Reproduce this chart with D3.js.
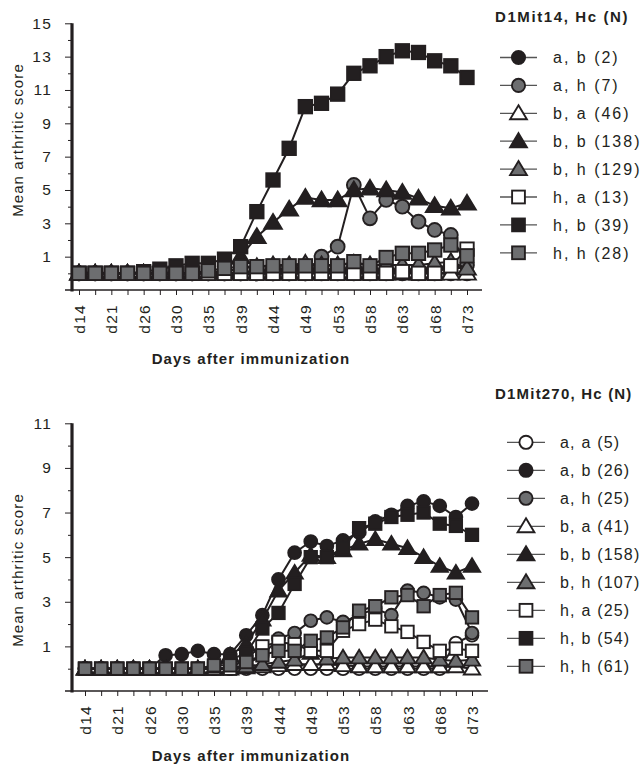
<!DOCTYPE html>
<html><head><meta charset="utf-8">
<script src="https://cdn.jsdelivr.net/npm/d3@7"></script>
<style>
body{margin:0;background:#fff}
svg{display:block}
text{font-family:"Liberation Sans",Arial,Helvetica,sans-serif;fill:#231f20}
</style>
</head><body>
<svg id="chart" width="644" height="766"></svg>
<script>
// ---------- DATA ----------
const days = ["d14","d16","d21","d23","d26","d28","d30","d33","d35","d37","d39","d42","d44",
              "d46","d49","d51","d53","d56","d58","d60","d63","d65","d68","d70","d73"];
const yTicksA = [1,3,5,7,9,11,13,15];
const yTicksB = [1,3,5,7,9,11];
const yTitle = "Mean arthritic score";
const xTitle = "Days after immunization";

// Panel A: D1Mit14
const legendTitleA = "D1Mit14, Hc (N)";
const genotypesA = ["a, b","a, h","b, a","b, b","b, h","h, a","h, b","h, h"];
const countsA = [2, 7, 46, 138, 129, 13, 39, 28];
const A_ab = [0,0,0,0,0,0,0,0,0,0,0,0,0,0,0,0,0,0,0,0,0,0,0,0,0];
const A_ah = [0,0,0,0,0,0,0,0,0,0,0,0,0,0,0,1.0,1.6,5.3,3.3,4.4,4.0,3.1,2.6,2.3,0.5];
const A_ba = [0,0,0,0,0,0,0,0,0,0,0,0,0,0,0,0,0,0,0,0,0,0,0,0,0];
const A_bb = [0,0,0,0,0,0,0,0,0,0.2,1.0,2.2,3.05,3.85,4.55,4.4,4.4,5.0,5.1,5.0,4.85,4.5,4.05,3.9,4.2];
const A_bh = [0,0,0,0,0,0,0,0,0,0.1,0.3,0.4,0.5,0.5,0.6,0.5,0.5,0.6,0.5,0.5,0.5,0.5,0.6,0.7,0.3];
const A_ha = [0,0,0,0,0,0,0,0,0,0,0,0,0,0,0,0,0,0,0,0,0.1,0,0,0.45,1.45];
const A_hb = [0,0,0,0,0.1,0.25,0.45,0.6,0.6,0.85,1.6,3.7,5.6,7.5,10.0,10.2,10.75,12.0,12.45,13.0,13.35,13.25,12.75,12.45,11.75];
const A_hh = [0,0,0,0,0,0,0,0,0.15,0.3,0.4,0.4,0.45,0.45,0.45,0.45,0.45,0.7,0.45,0.95,1.2,1.2,1.4,1.7,1.05];

// Panel B: D1Mit270
const legendTitleB = "D1Mit270, Hc (N)";
const genotypesB = ["a, a","a, b","a, h","b, a","b, b","b, h","h, a","h, b","h, h"];
const countsB = [5, 26, 25, 41, 158, 107, 25, 54, 61];
const B_aa = [0,0,0,0,0,0,0,0,0,0,0,0,0,0,0,0,0,0,0,0,0,0,0,1.15,1.5];
const B_ab = [0,0,0,0,0,0.6,0.65,0.8,0.65,0.65,1.5,2.4,4.0,5.2,5.7,5.5,5.75,6.1,6.6,6.9,7.3,7.5,7.3,6.8,7.4];
const B_ah = [0,0,0,0,0,0,0,0,0,0,0.2,0.6,1.35,1.6,2.15,2.3,2.1,2.4,2.7,2.4,3.5,3.4,3.2,3.1,1.6];
const B_ba = [0,0,0,0,0,0,0,0,0,0,0.05,0.1,0.15,0.2,0.2,0.2,0.15,0.1,0.1,0.1,0.1,0.1,0.1,0.1,0.0];
const B_bb = [0,0,0,0,0,0,0,0,0,0.6,1.1,2.2,3.5,4.3,5.1,5.0,5.3,5.6,5.8,5.6,5.4,5.0,4.6,4.3,4.6];
const B_bh = [0,0,0,0,0,0,0,0,0,0.05,0.1,0.2,0.3,0.4,0.7,0.45,0.5,0.5,0.5,0.5,0.5,0.5,0.4,0.35,0.4];
const B_ha = [0,0,0,0,0,0,0,0,0,0,0.5,1.0,1.2,1.1,0.8,0.8,1.7,2.0,2.2,1.9,1.65,1.2,0.8,0.9,0.8];
const B_hb = [0,0,0,0,0,0,0,0,0.1,0.4,0.7,1.8,2.5,3.8,5.0,5.0,5.4,6.3,6.5,6.8,6.9,7.0,6.5,6.4,6.0];
const B_hh = [0,0,0,0,0,0,0,0,0.15,0.15,0.3,0.6,0.8,0.8,1.25,1.4,1.85,2.6,2.8,3.2,3.3,2.8,3.3,3.4,2.3];

const seriesA = [A_ab, A_ah, A_ba, A_bb, A_bh, A_ha, A_hb, A_hh];
const seriesB = [B_aa, B_ab, B_ah, B_ba, B_bb, B_bh, B_ha, B_hb, B_hh];

// ---------- STYLE ----------
const INK = "#231f20";
const shapeOf = {a: "circle", b: "triangle", h: "square"};
const fillOf = {a: "#ffffff", b: INK, h: "#6d6e70"};

const svg = d3.select("#chart");

function drawMarker(g, genotype, cx, cy, s) {
  const shape = shapeOf[genotype[0]];
  const fill = fillOf[genotype[3]];
  let el;
  if (shape === "circle") {
    el = g.append("circle").attr("cx", cx).attr("cy", cy).attr("r", 6.6 * s);
  } else if (shape === "square") {
    const h = 6.4 * s;
    el = g.append("rect").attr("x", cx - h).attr("y", cy - h).attr("width", 2 * h).attr("height", 2 * h);
  } else {
    const w = 8.4 * s;
    el = g.append("path").attr("d", `M${cx},${cy - 8 * s}L${cx + w},${cy + 6 * s}L${cx - w},${cy + 6 * s}Z`);
  }
  el.attr("fill", fill).attr("stroke", INK).attr("stroke-width", 1.9).attr("stroke-linejoin", "miter");
}

function drawPanel(p) {
  const g = svg.append("g");
  const x = d3.scalePoint().domain(days).range([p.x0, p.x1]);
  const y = d3.scaleLinear().domain([-1, p.yMax]).range([p.yBottom, p.yTop]);

  // y axis
  const minor = d3.range(0, p.yMax, 2);
  g.append("g").attr("transform", `translate(${p.axisX},0)`)
    .call(d3.axisLeft(y).tickValues(minor).tickSize(4).tickFormat(""))
    .call(a => a.select(".domain").remove())
    .call(a => a.selectAll("line").attr("stroke", INK).attr("stroke-width", 1));
  const ya = g.append("g").attr("transform", `translate(${p.axisX},0)`)
    .call(d3.axisLeft(y).tickValues(p.yTicks).tickSize(7).tickSizeOuter(0).tickPadding(13));
  ya.select(".domain").remove();
  ya.selectAll("line").attr("stroke", INK).attr("stroke-width", 1);
  ya.selectAll("text").attr("font-size", 15.5).attr("letter-spacing", 1.2).style("fill", INK)
    .attr("font-family", "'Liberation Sans',Arial,sans-serif");
  g.append("line").attr("x1", p.axisX).attr("x2", p.axisX)
    .attr("y1", y(p.yMax)).attr("y2", y(-1) + 1.5)
    .attr("stroke", INK).attr("stroke-width", 3.2);

  // x axis
  g.append("line").attr("x1", p.axisX - 7).attr("x2", p.xAxisEnd)
    .attr("y1", y(-1)).attr("y2", y(-1)).attr("stroke", INK).attr("stroke-width", 1.6);
  const xa = g.append("g").attr("transform", `translate(0,${y(-1)})`)
    .call(d3.axisBottom(x).tickSize(5).tickSizeOuter(0).tickFormat((d, i) => i % 2 === 0 ? d : ""));
  xa.select(".domain").remove();
  xa.selectAll("line").attr("stroke", INK).attr("stroke-width", 1);
  xa.selectAll("text")
    .attr("transform", "rotate(-90)")
    .attr("x", -14).attr("y", 0).attr("dy", "0.36em")
    .style("text-anchor", "end")
    .attr("font-size", 15.5).attr("letter-spacing", 1.3).style("fill", INK)
    .attr("font-family", "'Liberation Sans',Arial,sans-serif");

  // titles
  g.append("text").attr("x", p.titleX).attr("y", p.xTitleY)
    .attr("text-anchor", "middle").attr("font-weight", "bold").attr("font-size", 15).attr("letter-spacing", 1.1)
    .text(xTitle);
  g.append("text").attr("transform", `translate(23,${p.yTitleY}) rotate(-90)`)
    .attr("text-anchor", "middle").attr("font-size", 15).attr("letter-spacing", 1.1)
    .text(yTitle);

  // series
  const line = d3.line().x((d, i) => x(days[i])).y(d => y(d));
  p.series.forEach((vals, k) => {
    const sg = g.append("g");
    sg.append("path").attr("d", line(vals)).attr("fill", "none")
      .attr("stroke", INK).attr("stroke-width", 2);
    vals.forEach((v, i) => drawMarker(sg, p.genotypes[k], x(days[i]), y(v), p.ms));
  });

  // legend
  const lg = svg.append("g");
  lg.append("text").attr("x", p.legX).attr("y", p.legTitleY).attr("dy", "0.35em")
    .attr("font-weight", "bold").attr("font-size", 15).attr("letter-spacing", p.legTitleSpacing)
    .text(p.legendTitle);
  p.genotypes.forEach((gt, k) => {
    const ry = p.legY0 + k * p.legStep;
    lg.append("line").attr("x1", p.legLine0).attr("x2", p.legLine1).attr("y1", ry).attr("y2", ry)
      .attr("stroke", "#555").attr("stroke-width", 1.3);
    drawMarker(lg, gt, (p.legLine0 + p.legLine1) / 2, ry, 1.0);
    lg.append("text").attr("x", p.legText).attr("y", ry).attr("dy", "0.36em")
      .attr("font-size", 16).attr("letter-spacing", p.legSpacing)
      .text(`${gt} (${p.counts[k]})`);
  });
}

drawPanel({
  series: seriesA, genotypes: genotypesA, counts: countsA, legendTitle: legendTitleA,
  yMax: 15, yTicks: yTicksA, yTop: 23.3, yBottom: 290, axisX: 72, x0: 79, x1: 467, xAxisEnd: 482,
  titleX: 251, xTitleY: 364, yTitleY: 140, ms: 1.05,
  legX: 495, legTitleY: 17, legY0: 57.5, legStep: 27.9, legLine0: 500, legLine1: 537, legText: 553,
  legSpacing: 2, legTitleSpacing: 1.6
});
drawPanel({
  series: seriesB, genotypes: genotypesB, counts: countsB, legendTitle: legendTitleB,
  yMax: 11, yTicks: yTicksB, yTop: 423.3, yBottom: 691, axisX: 72, x0: 85, x1: 472, xAxisEnd: 488,
  titleX: 251, xTitleY: 761, yTitleY: 570, ms: 0.97,
  legX: 495, legTitleY: 394, legY0: 442.3, legStep: 28, legLine0: 507, legLine1: 545, legText: 560,
  legSpacing: 1.2, legTitleSpacing: 1.2
});
</script>
</body></html>
